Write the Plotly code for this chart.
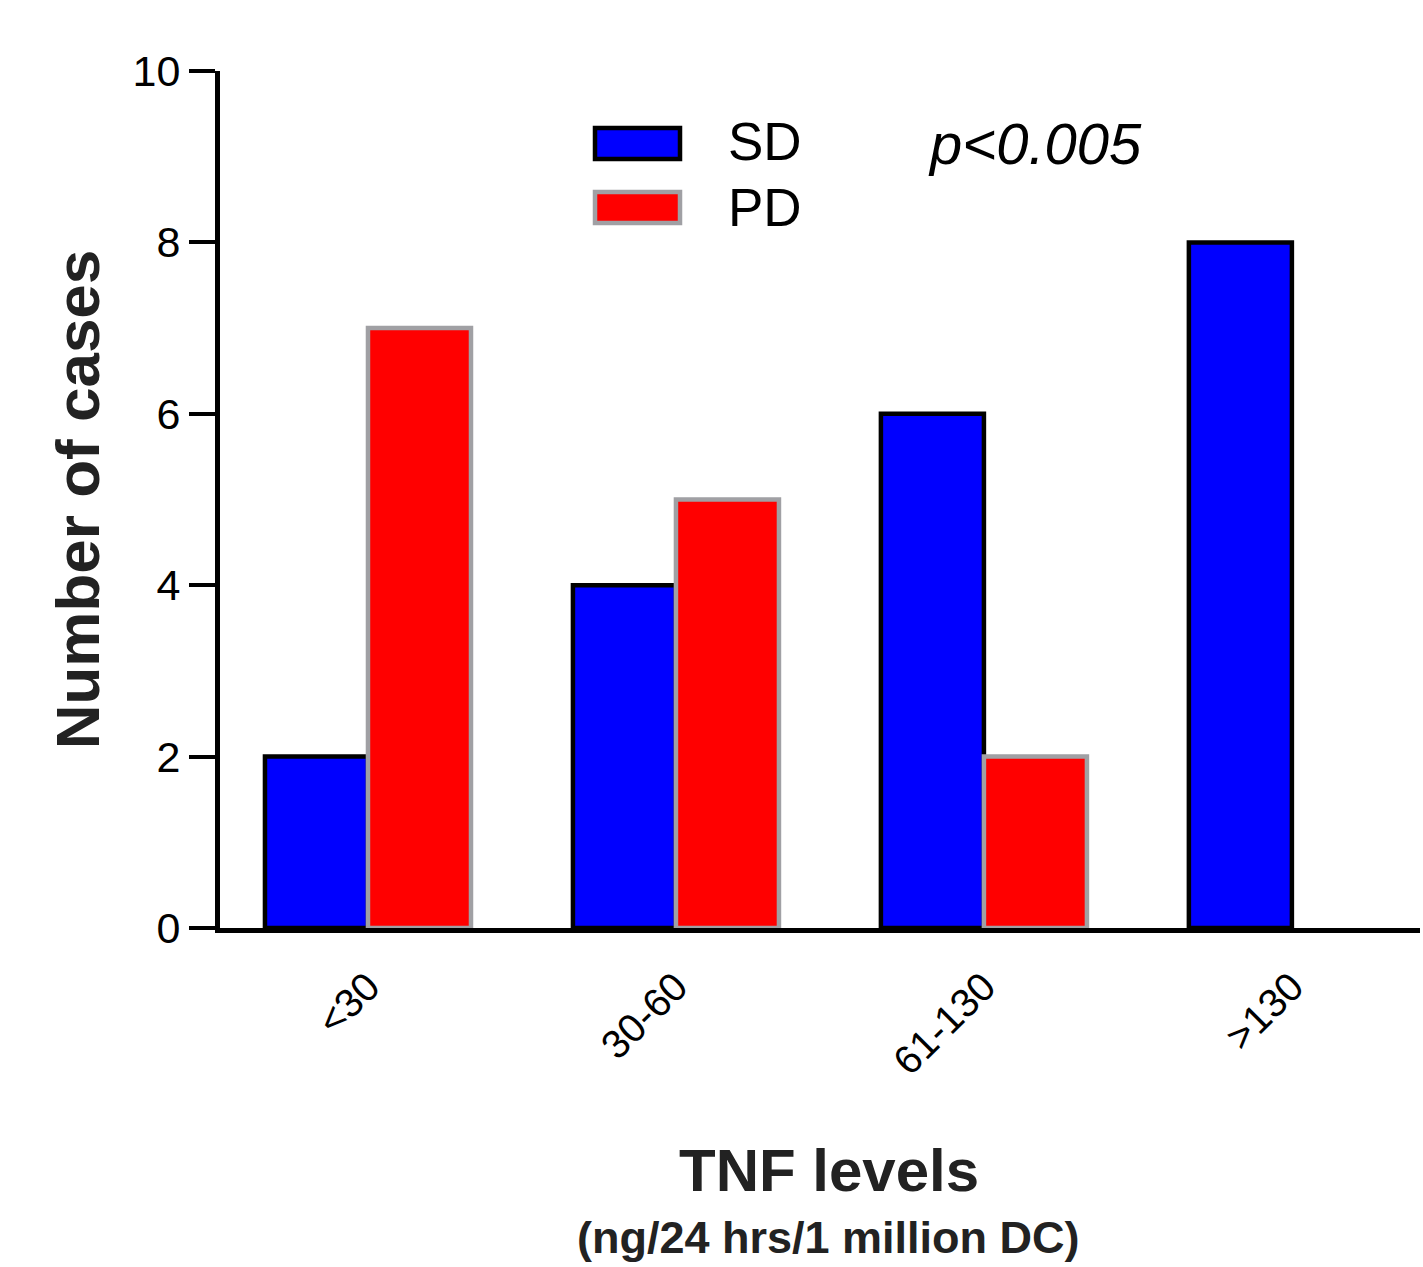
import plotly.graph_objects as go

categories = ["<30", "30-60", "61-130", ">130"]
sd_values = [2, 4, 6, 8]
pd_values = [7, 5, 2, 0]
y_ticks = [0, 2, 4, 6, 8, 10]

FONT = "Arial, Liberation Sans, sans-serif"

L, R_EDGE, T, B_EDGE = 220, 1420, 71, 928

fig = go.Figure()
fig.add_trace(go.Bar(name="SD", x=categories, y=sd_values,
                     marker=dict(color="#0000ff", line=dict(color="#000000", width=4.5))))
fig.add_trace(go.Bar(name="PD", x=categories, y=pd_values,
                     marker=dict(color="#ff0000",
                                 line=dict(color="#a0a0a4",
                                           width=[4.5 if v > 0 else 0 for v in pd_values]))))

fig.update_layout(
    width=1423, height=1267,
    margin=dict(l=L, r=1423 - R_EDGE, t=T, b=1267 - B_EDGE),
    paper_bgcolor="white", plot_bgcolor="white",
    barmode="group", bargap=0.331, bargroupgap=0,
    showlegend=False,
    font=dict(family=FONT, color="#000000"),
)
fig.update_xaxes(
    range=[-0.4805, 3.416], showline=True, linecolor="black", linewidth=5,
    ticks="", showgrid=False, tickangle=-45,
    tickfont=dict(size=40, color="#000000", family=FONT),
    ticklabelstandoff=14,
)
fig.update_yaxes(
    range=[0, 10], tickvals=y_ticks, showline=True, linecolor="black", linewidth=5,
    ticks="outside", ticklen=26, tickwidth=4, tickcolor="black", showgrid=False,
    zeroline=False,
    tickfont=dict(size=43, color="#000000", family=FONT),
    title=dict(text="<b>Number of cases</b>", font=dict(size=62, color="#222222", family=FONT),
               standoff=14),
)

# Legend drawn manually (large swatches)
def px_x(x):
    return (x - L) / (R_EDGE - L)

def px_y(y):
    return (B_EDGE - y) / (B_EDGE - T)

fig.add_shape(type="rect", xref="paper", yref="paper",
              x0=px_x(595), x1=px_x(680), y0=px_y(128), y1=px_y(159),
              fillcolor="#0000ff", line=dict(color="#000000", width=4.5))
fig.add_shape(type="rect", xref="paper", yref="paper",
              x0=px_x(595), x1=px_x(680), y0=px_y(192), y1=px_y(223),
              fillcolor="#ff0000", line=dict(color="#a0a0a4", width=4.5))
fig.add_annotation(text="SD", xref="paper", yref="paper", x=px_x(726), y=px_y(142),
                   xanchor="left", yanchor="middle", showarrow=False,
                   font=dict(size=53, color="#000000", family=FONT))
fig.add_annotation(text="PD", xref="paper", yref="paper", x=px_x(726), y=px_y(207),
                   xanchor="left", yanchor="middle", showarrow=False,
                   font=dict(size=53, color="#000000", family=FONT))
fig.add_annotation(text="<i>p<0.005</i>", xref="paper", yref="paper", x=px_x(926), y=px_y(144),
                   xanchor="left", yanchor="middle", showarrow=False,
                   font=dict(size=58, color="#000000", family=FONT))

# X axis titles
fig.add_annotation(text="<b>TNF levels</b>", xref="paper", yref="paper", x=px_x(829), y=px_y(1170),
                   xanchor="center", yanchor="middle", showarrow=False,
                   font=dict(size=60, color="#222222", family=FONT))
fig.add_annotation(text="<b>(ng/24 hrs/1 million DC)</b>", xref="paper", yref="paper",
                   x=px_x(829), y=px_y(1237), xanchor="center", yanchor="middle", showarrow=False,
                   font=dict(size=45, color="#222222", family=FONT))

fig.write_html("out.html")
